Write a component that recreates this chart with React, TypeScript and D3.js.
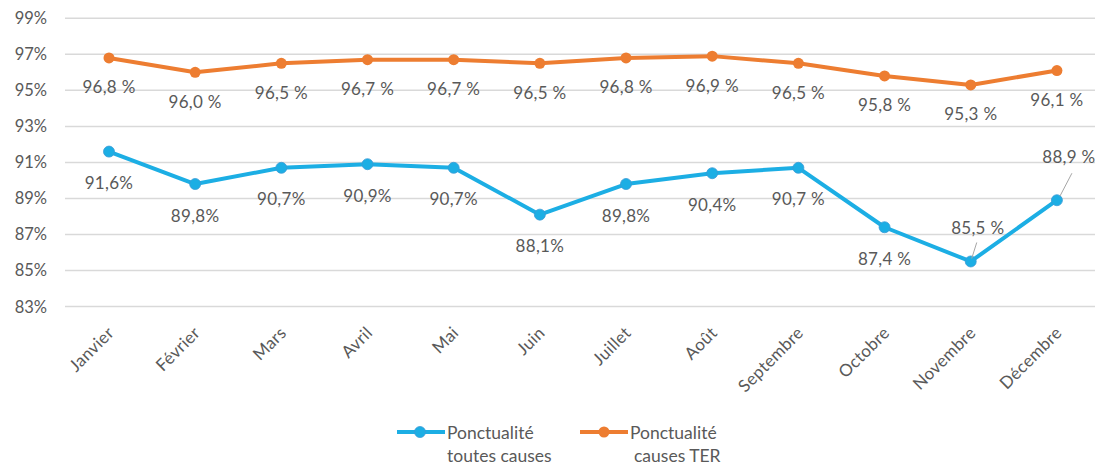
import React from "react";
import * as d3 from "d3";

const months = ["Janvier","Février","Mars","Avril","Mai","Juin","Juillet","Août","Septembre","Octobre","Novembre","Décembre"];
const toutesCauses = [91.6, 89.8, 90.7, 90.9, 90.7, 88.1, 89.8, 90.4, 90.7, 87.4, 85.5, 88.9];
const toutesLabels = ["91,6%","89,8%","90,7%","90,9%","90,7%","88,1%","89,8%","90,4%","90,7 %","87,4 %","85,5 %","88,9 %"];
const causesTER = [96.8, 96.0, 96.5, 96.7, 96.7, 96.5, 96.8, 96.9, 96.5, 95.8, 95.3, 96.1];
const terLabels = ["96,8 %","96,0 %","96,5 %","96,7 %","96,7 %","96,5 %","96,8 %","96,9 %","96,5 %","95,8 %","95,3 %","96,1 %"];
const yTicks = [83, 85, 87, 89, 91, 93, 95, 97, 99];

const W = 1095, H = 467;
const BLUE = "#1CAEE4";
const ORANGE = "#ED7D31";
const TXT = "#595959";
const FONT = "Lato, 'Noto Sans', sans-serif";

export default function App() {
  const x = d3.scalePoint<string>().domain(months).range([65.9, 1100]).padding(0.5);
  const y = d3.scaleLinear().domain([83, 99]).range([306.5, 18.3]);
  const line = d3.line<number>().x((_, i) => x(months[i])!).y(d => y(d));

  const blueLabelPos = (i: number) => {
    const px = x(months[i])!, py = y(toutesCauses[i]);
    if (i === 10) return { lx: px + 7, ly: py - 34, leader: [px + 6, py - 19, px + 1, py - 3] };
    if (i === 11) return { lx: px + 12, ly: py - 44, leader: [px + 15, py - 27, px + 3, py - 4] };
    return { lx: px, ly: py + 31, leader: null as null | number[] };
  };

  return (
    <svg width={W} height={H} style={{ position: "absolute", left: 0, top: 0, background: "#fff" }} fontFamily={FONT}>
      {yTicks.map(t => (
        <g key={t}>
          <line x1={65} x2={1095} y1={y(t)} y2={y(t)} stroke="#d9d9d9" strokeWidth={1.5} />
          <text x={47} y={y(t)} textAnchor="end" dominantBaseline="central" fontSize={16.5} fill={TXT}>{t}%</text>
        </g>
      ))}
      {months.map(m => (
        <text key={m} transform={`translate(${x(m)! + 6},${334}) rotate(-45)`} textAnchor="end" fontSize={17} letterSpacing={0.3} fill={TXT}>{m}</text>
      ))}
      <path d={line(causesTER)!} fill="none" stroke={ORANGE} strokeWidth={4} strokeLinejoin="round" />
      {causesTER.map((v, i) => (
        <circle key={i} cx={x(months[i])!} cy={y(v)} r={5.5} fill={ORANGE} />
      ))}
      {causesTER.map((v, i) => (
        <text key={i} x={x(months[i])!} y={y(v) + 29} textAnchor="middle" dominantBaseline="central" fontSize={17} letterSpacing={0.3} fill={TXT}>{terLabels[i]}</text>
      ))}
      <path d={line(toutesCauses)!} fill="none" stroke={BLUE} strokeWidth={4} strokeLinejoin="round" />
      {toutesCauses.map((v, i) => (
        <circle key={i} cx={x(months[i])!} cy={y(v)} r={5.5} fill={BLUE} stroke="#3a9bd6" strokeWidth={0.8} />
      ))}
      {toutesCauses.map((v, i) => {
        const p = blueLabelPos(i);
        return (
          <g key={i}>
            {p.leader && <line x1={p.leader[0]} y1={p.leader[1]} x2={p.leader[2]} y2={p.leader[3]} stroke="#a6a6a6" strokeWidth={1} />}
            <text x={p.lx} y={p.ly} textAnchor="middle" dominantBaseline="central" fontSize={17} letterSpacing={0.3} fill={TXT}>{toutesLabels[i]}</text>
          </g>
        );
      })}
      <g>
        <line x1={397} x2={445} y1={432} y2={432} stroke={BLUE} strokeWidth={4} />
        <circle cx={420} cy={432} r={5.5} fill={BLUE} stroke="#3a9bd6" strokeWidth={0.8} />
        <text x={447} y={432} dominantBaseline="central" fontSize={17.5} fill={TXT}>Ponctualité</text>
        <text x={447} y={455} dominantBaseline="central" fontSize={17.5} fill={TXT}>toutes causes</text>
        <line x1={580} x2={628} y1={432} y2={432} stroke={ORANGE} strokeWidth={4} />
        <circle cx={604} cy={432} r={5.5} fill={ORANGE} />
        <text x={630} y={432} dominantBaseline="central" fontSize={17.5} fill={TXT}>Ponctualité</text>
        <text x={634} y={455} dominantBaseline="central" fontSize={17.5} fill={TXT}>causes TER</text>
      </g>
    </svg>
  );
}
